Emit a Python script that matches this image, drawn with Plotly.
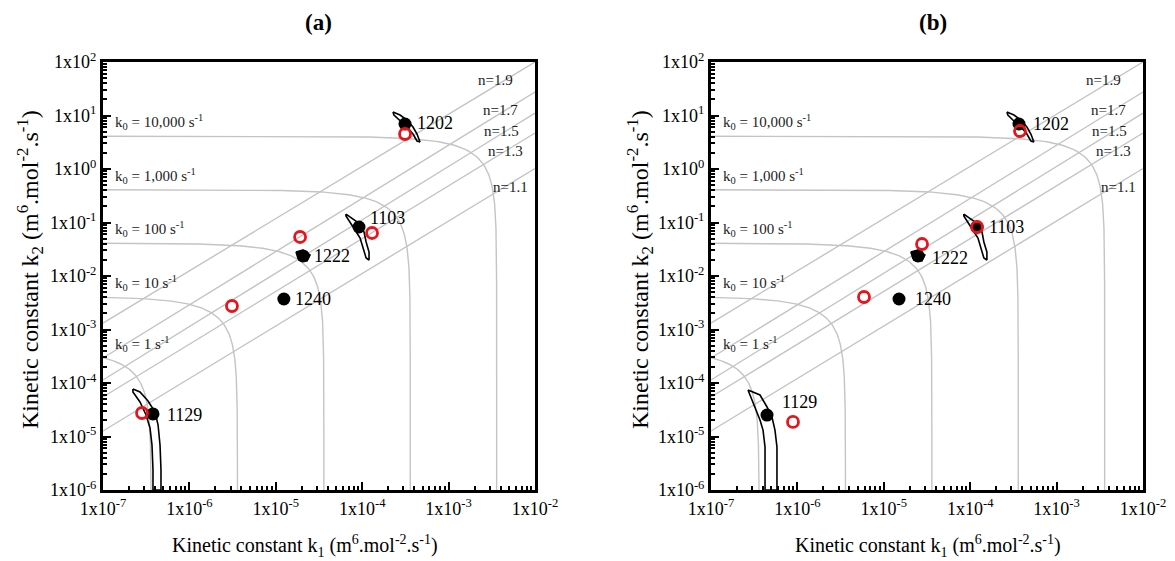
import numpy as np
import plotly.graph_objects as go

# ---------------- data ----------------
sample_ids = ["1202", "1103", "1222", "1240", "1129"]

# panel (a): black = fitted, red = alternative estimate
a_k1_black = [3.13e-4, 9.18e-5, 2.07e-5, 1.24e-5, 3.79e-7]
a_k2_black = [6.93, 0.0824, 0.0237, 0.00372, 2.64e-5]
a_k1_red = [3.13e-4, 1.30e-4, 1.91e-5, 3.11e-6, 2.83e-7]
a_k2_red = [4.51, 0.0637, 0.0536, 0.00275, 2.75e-5]

# panel (b)
b_k1_black = [3.67e-4, 1.20e-4, 2.49e-5, 1.50e-5, 4.45e-7]
b_k2_black = [6.93, 0.0824, 0.0237, 0.00372, 2.52e-5]
b_k1_red = [3.77e-4, 1.20e-4, 2.77e-5, 5.90e-6, 8.89e-7]
b_k2_red = [5.13, 0.0824, 0.0396, 0.00405, 1.87e-5]

# confidence contours (panel a)
a_c1202_k1 = [2.27e-4, 2.74e-4, 3.30e-4, 3.87e-4, 4.31e-4, 4.67e-4, 4.31e-4, 3.87e-4, 3.39e-4, 2.81e-4, 2.33e-4, 2.27e-4]
a_c1202_k2 = [11.6, 10.2, 8.24, 6.10, 4.51, 3.20, 3.34, 4.51, 5.84, 7.56, 10.2, 11.6]
a_c1103_k1 = [6.49e-5, 7.62e-5, 9.45e-5, 1.05e-4, 1.11e-4, 1.20e-4, 1.20e-4, 1.11e-4, 1.02e-4, 9.45e-5, 8.26e-5, 7.23e-5, 6.49e-5, 6.49e-5]
a_c1103_k2 = [0.144, 0.121, 0.0938, 0.0664, 0.0433, 0.0281, 0.0199, 0.0217, 0.0333, 0.0513, 0.0724, 0.102, 0.132, 0.144]
a_c1222_k1 = [1.71e-5, 2.07e-5, 2.49e-5, 2.30e-5, 1.86e-5, 1.71e-5]
a_c1222_k2 = [0.0281, 0.0306, 0.0247, 0.0191, 0.0199, 0.0281]
a_c1129_k1 = [2.22e-7, 2.68e-7, 3.32e-7, 4.0e-7, 4.34e-7, 4.57e-7, 4.69e-7, 4.69e-7, 3.79e-7, 3.79e-7, 3.69e-7, 3.50e-7, 3.15e-7, 2.68e-7, 2.22e-7, 2.22e-7]
a_c1129_k2 = [7.73e-5, 6.79e-5, 4.61e-5, 2.87e-5, 1.64e-5, 6.93e-6, 2.37e-6, 1e-6, 1e-6, 2.37e-6, 6.93e-6, 1.44e-5, 2.52e-5, 4.42e-5, 6.79e-5, 7.73e-5]

# confidence contours (panel b)
b_c1202_k1 = [2.66e-4, 3.21e-4, 3.86e-4, 4.53e-4, 5.04e-4, 5.46e-4, 5.04e-4, 4.53e-4, 3.97e-4, 3.29e-4, 2.73e-4, 2.66e-4]
b_c1202_k2 = [11.6, 10.2, 8.24, 6.10, 4.51, 3.20, 3.34, 4.51, 5.84, 7.56, 10.2, 11.6]
b_c1103_k1 = [8.44e-5, 9.91e-5, 1.23e-4, 1.37e-4, 1.44e-4, 1.56e-4, 1.56e-4, 1.44e-4, 1.33e-4, 1.23e-4, 1.07e-4, 9.40e-5, 8.44e-5, 8.44e-5]
b_c1103_k2 = [0.144, 0.121, 0.0938, 0.0664, 0.0433, 0.0281, 0.0199, 0.0217, 0.0333, 0.0513, 0.0724, 0.102, 0.132, 0.144]
b_c1222_k1 = [2.05e-5, 2.48e-5, 2.99e-5, 2.76e-5, 2.23e-5, 2.05e-5]
b_c1222_k2 = [0.0281, 0.0306, 0.0247, 0.0191, 0.0199, 0.0281]
b_c1129_k1 = [2.68e-7, 3.69e-7, 4.45e-7, 5.08e-7, 5.5e-7, 5.8e-7, 5.8e-7, 4.22e-7, 4.22e-7, 4.0e-7, 3.69e-7, 3.23e-7, 2.83e-7, 2.68e-7]
b_c1129_k2 = [7.4e-5, 5.97e-5, 3.56e-5, 2.31e-5, 1.32e-5, 6.37e-6, 1e-6, 1e-6, 6.37e-6, 1.32e-5, 2.03e-5, 3.56e-5, 5.97e-5, 7.4e-5]

# k0 iso-lines: k1/k1_limit + k2/k2_limit = 1
k0_labels = ["1", "10", "100", "1,000", "10,000"]
k0_k1_limit = [3.6e-7, 3.6e-6, 3.6e-5, 3.6e-4, 3.6e-3]
k0_k2_limit = [4.1e-4, 4.1e-3, 4.1e-2, 4.1e-1, 4.1]

# n lines (straight in log-log), k2 read at k1 = 1e-7 and k1 = 1e-2
n_labels = ["1.9", "1.7", "1.5", "1.3", "1.1"]
n_k2_left = [1.32e-3, 2.93e-4, 1.14e-4, 5.47e-5, 1.27e-5]
n_k2_right = [100.0, 27.5, 11.1, 4.71, 1.02]
k1_ends = [1e-7, 1e-2]

# x / y tick labels
x_tick_vals = [1e-7, 1e-6, 1e-5, 1e-4, 1e-3, 1e-2]
x_tick_text = ["1x10<sup>-7</sup>", "1x10<sup>-6</sup>", "1x10<sup>-5</sup>",
               "1x10<sup>-4</sup>", "1x10<sup>-3</sup>", "1x10<sup>-2</sup>"]
y_tick_vals = [1e-6, 1e-5, 1e-4, 1e-3, 1e-2, 1e-1, 1e0, 1e1, 1e2]
y_tick_text = ["1x10<sup>-6</sup>", "1x10<sup>-5</sup>", "1x10<sup>-4</sup>", "1x10<sup>-3</sup>",
               "1x10<sup>-2</sup>", "1x10<sup>-1</sup>", "1x10<sup>0</sup>", "1x10<sup>1</sup>",
               "1x10<sup>2</sup>"]

# ---------------- styling ----------------
SERIF = "Liberation Serif, Times New Roman, serif"
GRAY = "#c4c4c4"
OFF = 8                      # page body margin of the html page
W, H = 1175 - OFF, 561 - OFF  # figure size so that it fills the window
BOX_TOP, BOX_BOT = 62, 490    # window pixel positions of the plot boxes
N_LABEL_XSHIFT = [-20, -15, -14, -10, -5]


def px(X):
    return (X - OFF) / W


def py(Y):
    return 1 - (Y - OFF) / H


PANELS = [
    dict(name="(a)", xl=103, xr=535, xa="x", ya="y",
         k1b=a_k1_black, k2b=a_k2_black, k1r=a_k1_red, k2r=a_k2_red,
         contours=[(a_c1202_k1, a_c1202_k2, False), (a_c1103_k1, a_c1103_k2, False),
                   (a_c1222_k1, a_c1222_k2, True), (a_c1129_k1, a_c1129_k2, False)],
         lbl_shift=[(10, 1), (9, 9), (9, 0), (9, 0), (12, -1)],
         title_x=318, xtitle_x=305, ytitle_x=30),
    dict(name="(b)", xl=711, xr=1143, xa="x2", ya="y2",
         k1b=b_k1_black, k2b=b_k2_black, k1r=b_k1_red, k2r=b_k2_red,
         contours=[(b_c1202_k1, b_c1202_k2, False), (b_c1103_k1, b_c1103_k2, False),
                   (b_c1222_k1, b_c1222_k2, True), (b_c1129_k1, b_c1129_k2, False)],
         lbl_shift=[(12, 0), (10, 0), (12, -2), (14, 0), (13, 13)],
         title_x=933, xtitle_x=928, ytitle_x=640),
]

fig = go.Figure()
annotations = []

for P in PANELS:
    xa, ya = P["xa"], P["ya"]
    # k0 isolines
    for lab, k1l, k2l in zip(k0_labels, k0_k1_limit, k0_k2_limit):
        k1_a = np.logspace(np.log10(k1_ends[0]), np.log10(k1l * 0.5), 150)
        s = np.logspace(np.log10(0.5), np.log10(1e-7 / k2l), 200)
        k1_all = np.concatenate([k1_a, k1l * (1 - s)])
        k2_all = k2l * (1 - k1_all / k1l)
        fig.add_trace(go.Scatter(x=k1_all, y=k2_all, mode="lines", xaxis=xa, yaxis=ya,
                                 line=dict(color=GRAY, width=1.4), hoverinfo="skip", showlegend=False))
        annotations.append(dict(x=np.log10(k1_all[0]), y=np.log10(k2_all[0]), xref=xa, yref=ya,
                                text=f"k<sub>0</sub> = {lab} s<sup>-1</sup>", showarrow=False,
                                xanchor="left", yanchor="middle", xshift=10, yshift=14,
                                font=dict(family=SERIF, size=15, color="#222222")))
    # n lines
    for lab, yl, yr, xs in zip(n_labels, n_k2_left, n_k2_right, N_LABEL_XSHIFT):
        fig.add_trace(go.Scatter(x=k1_ends, y=[yl, yr], mode="lines", xaxis=xa, yaxis=ya,
                                 line=dict(color=GRAY, width=1.4), hoverinfo="skip", showlegend=False))
        annotations.append(dict(x=np.log10(k1_ends[1]), y=np.log10(yr), xref=xa, yref=ya,
                                text=f"n={lab}", showarrow=False, xanchor="right", yanchor="middle",
                                xshift=xs, yshift=-18,
                                font=dict(family=SERIF, size=15, color="#222222")))
    # contours
    for ck1, ck2, filled in P["contours"]:
        fig.add_trace(go.Scatter(x=ck1, y=ck2, mode="lines", xaxis=xa, yaxis=ya,
                                 fill="toself" if filled else None,
                                 fillcolor="black" if filled else None,
                                 line=dict(color="black", width=1.6), hoverinfo="skip", showlegend=False))
    # black points
    fig.add_trace(go.Scatter(x=P["k1b"], y=P["k2b"], mode="markers", xaxis=xa, yaxis=ya,
                             marker=dict(color="black", size=13), showlegend=False))
    # red open circles
    fig.add_trace(go.Scatter(x=P["k1r"], y=P["k2r"], mode="markers", xaxis=xa, yaxis=ya,
                             marker=dict(symbol="circle-open", color="#e8141c", size=11,
                                         line=dict(width=2.8, color="#e8141c")),
                             showlegend=False))
    # point labels
    for sid, kx, ky, (dx, dy) in zip(sample_ids, P["k1b"], P["k2b"], P["lbl_shift"]):
        annotations.append(dict(x=np.log10(kx), y=np.log10(ky), xref=xa, yref=ya, text=sid,
                                showarrow=False, xanchor="left", yanchor="middle",
                                xshift=dx, yshift=dy,
                                font=dict(family=SERIF, size=18, color="black")))
    # panel title and axis titles
    annotations.append(dict(x=px(P["title_x"]), y=py(22), xref="paper", yref="paper",
                            xanchor="center", yanchor="middle",
                            text=f"<b>{P['name']}</b>", showarrow=False,
                            font=dict(family=SERIF, size=23, color="black")))
    annotations.append(dict(x=px(P["xtitle_x"]), y=py(546), xref="paper", yref="paper",
                            xanchor="center", yanchor="middle",
                            text="Kinetic constant k<sub>1</sub> (m<sup>6</sup>.mol<sup>-2</sup>.s<sup>-1</sup>)",
                            showarrow=False, font=dict(family=SERIF, size=20, color="black")))
    annotations.append(dict(x=px(P["ytitle_x"]), y=py(270), xref="paper", yref="paper",
                            xanchor="center", yanchor="middle",
                            text="Kinetic constant k<sub>2</sub> (m<sup>6</sup>.mol<sup>-2</sup>.s<sup>-1</sup>)",
                            showarrow=False, textangle=-90,
                            font=dict(family=SERIF, size=24, color="black")))

x_minor = [m * 10.0 ** d for d in range(-7, -2) for m in range(2, 10)]
y_minor = [m * 10.0 ** d for d in range(-6, 2) for m in range(2, 10)]


def axis(domain, rng, tv, tt, minor_vals, anchor):
    return dict(type="log", range=rng, domain=domain, anchor=anchor, automargin=False,
                showgrid=False, zeroline=False,
                showline=True, linecolor="black", linewidth=3, mirror=True,
                ticks="inside", ticklen=8, tickwidth=2, tickcolor="black",
                tickvals=tv, ticktext=tt,
                tickfont=dict(family=SERIF, size=18, color="black"),
                minor=dict(ticks="inside", ticklen=4, tickwidth=1.5, tickcolor="black",
                           tickvals=minor_vals))


ydom = [py(BOX_BOT), py(BOX_TOP)]
fig.update_layout(
    width=W, height=H, margin=dict(l=0, r=0, t=0, b=0, pad=0), template="none",
    paper_bgcolor="white", plot_bgcolor="white", showlegend=False,
    xaxis=axis([px(PANELS[0]["xl"]), px(PANELS[0]["xr"])], [-7, -2], x_tick_vals, x_tick_text, x_minor, "y"),
    yaxis=axis(ydom, [-6, 2], y_tick_vals, y_tick_text, y_minor, "x"),
    xaxis2=axis([px(PANELS[1]["xl"]), px(PANELS[1]["xr"])], [-7, -2], x_tick_vals, x_tick_text, x_minor, "y2"),
    yaxis2=axis(ydom, [-6, 2], y_tick_vals, y_tick_text, y_minor, "x2"),
    annotations=annotations,
)

fig.write_html("out.html")
